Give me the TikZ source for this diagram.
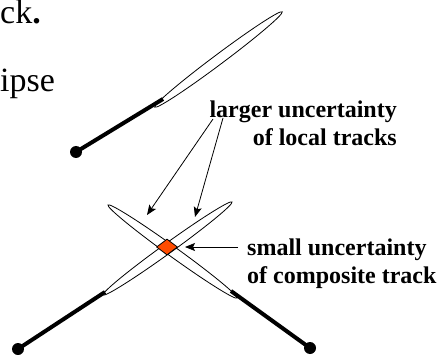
\documentclass[tikz,border=0pt]{standalone}
\usepackage{fontspec}
\setmainfont{Liberation Serif}
\usetikzlibrary{arrows.meta}
\usetikzlibrary{shapes.geometric}
\definecolor{crossred}{RGB}{255,76,0}
\newcommand{\drawarrow}{\draw[line width=0.8pt, -{Stealth[length=10pt, width=8pt, inset=2pt]}]}

\begin{document}
\begin{tikzpicture}[x=1pt, y=-1pt,
    errell/.style={ellipse, draw, line width=0.8pt, minimum width=159pt, minimum height=10pt, inner sep=0pt},
    dot/.style={circle, fill=black, minimum size=12pt, inner sep=0pt},
    notetext/.style={font=\fontsize{24}{28}\selectfont\bfseries, inner sep=0pt}]
    \useasboundingbox (0,0) rectangle (438,355);

    % Cut-off slide text
    \node[anchor=base west, inner sep=0pt, font=\fontsize{34}{38}\selectfont] (ck) at (0,24) {ck\textbf{.}};
    \node[anchor=base west, inner sep=0pt, font=\fontsize{34}{38}\selectfont] (ipse) at (0,92) {ipse};

    % Single local track
    \node[errell, rotate=36.8] (single) at (218.5,59.5) {};
    \node[dot] (d1) at (76,152) {};
    \coordinate (e1) at (163,99);
    \draw[line width=4pt] (d1.center) -- (e1);

    % Two crossing tracks
    \node[errell, rotate=-35.8] (left) at (172.5,251.5) {};
    \node[errell, rotate=35.8] (right) at (167.5,248.5) {};
    \node[dot] (d2) at (18,349) {};
    \node[dot] (d3) at (310,348) {};
    \coordinate (e2) at (105,292);
    \coordinate (e3) at (231,291);
    \draw[line width=4pt] (d2.center) -- (e2);
    \draw[line width=4pt] (e3) -- (d3.center);
    \node[diamond, draw, fill=crossred, line width=0.8pt, minimum width=21pt, minimum height=16pt, inner sep=0pt] (box) at (167,247) {};

    % Labels
    \node[notetext, align=right, anchor=north east] (larger) at (397,101) {larger uncertainty\\of local tracks};
    \node[notetext, align=left, anchor=north west] (small) at (247,239) {small uncertainty\\of composite track};

    \coordinate (s1) at (213,119);
    \coordinate (s2) at (223,118);
    \coordinate (s3) at (238,247);
    \coordinate (t1) at (147,215);
    \coordinate (t2) at (195,217);
    \coordinate (t3) at (185,247);
    \drawarrow (s1) -- (t1);
    \drawarrow (s2) -- (t2);
    \drawarrow (s3) -- (t3);
\end{tikzpicture}
\end{document}
